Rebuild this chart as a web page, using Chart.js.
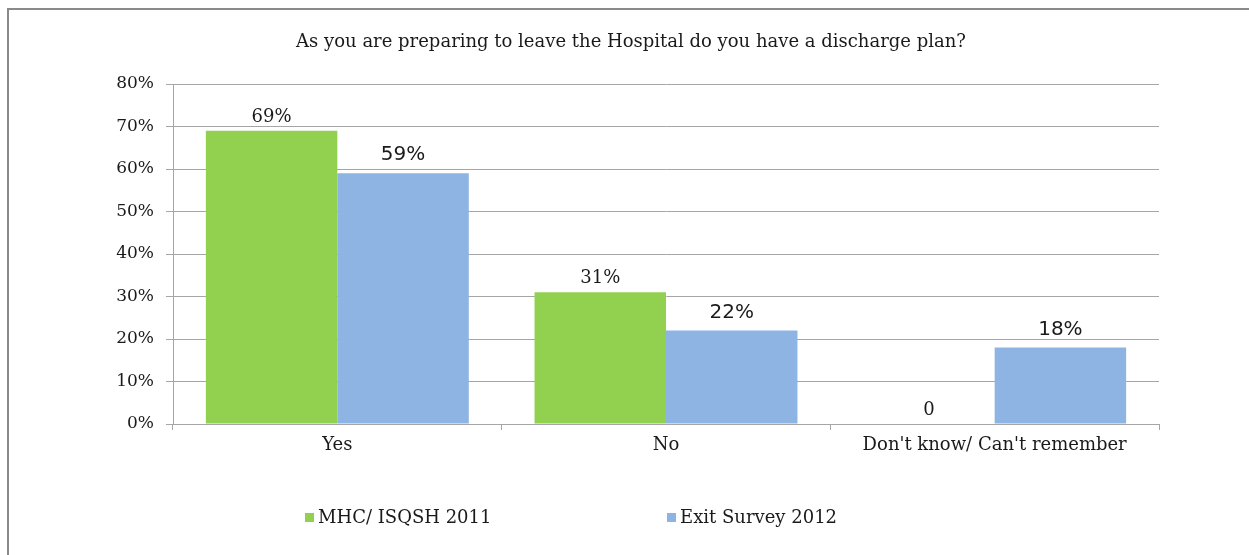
<!DOCTYPE html>
<html>
<head>
<meta charset="utf-8">
<script src="https://cdn.jsdelivr.net/npm/chart.js@4/dist/chart.umd.min.js"></script>
<style>
html, body { margin: 0; padding: 0; background: #fff; overflow: hidden; }
#frame { position: absolute; left: 7px; top: 8px; width: 1300px; height: 600px; border: 2px solid #8a8a8a; box-sizing: border-box; }
#wrap { position: absolute; left: 0; top: 0; width: 1249px; height: 555px; }
</style>
</head>
<body>
<div id="frame"></div>
<div id="wrap"><canvas id="graph"></canvas></div>
<script>
const categories = ["Yes", "No", "Don't know/ Can't remember"];
const seriesNames = ["MHC/ ISQSH 2011", "Exit Survey 2012"];
const mhc2011 = [69, 31, 0];
const exit2012 = [59, 22, 18];
const yTickLabels = ["0%", "10%", "20%", "30%", "40%", "50%", "60%", "70%", "80%"];
const chartTitle = "As you are preparing to leave the Hospital do you have a discharge plan?";

const serif = "'DejaVu Serif', serif";
const sans = "'DejaVu Sans', sans-serif";
const lineColor = '#a6a6a6';

function fmt(v) {
    return v === 0 ? "0" : v + "%";
}

// title, value labels and legend drawn on the canvas
const extras = {
    id: 'extras',
    afterDatasetsDraw(chart) {
        const ctx = chart.ctx;
        ctx.save();
        chart.data.datasets.forEach((ds, i) => {
            const meta = chart.getDatasetMeta(i);
            ctx.font = ds.labelFont;
            ctx.fillStyle = '#1a1a1a';
            ctx.textAlign = 'center';
            ctx.textBaseline = 'alphabetic';
            meta.data.forEach((bar, j) => {
                ctx.fillText(fmt(ds.data[j]), bar.x, bar.y - ds.labelGap);
            });
        });
        ctx.restore();
    },
    afterDraw(chart) {
        const ctx = chart.ctx;
        ctx.save();
        ctx.fillStyle = '#1a1a1a';
        ctx.font = "18px " + serif;
        ctx.textAlign = 'center';
        ctx.textBaseline = 'middle';
        ctx.fillText(chartTitle, 631, 42);

        const legendX = [305, 667];
        const legendY = 518;
        chart.data.datasets.forEach((ds, i) => {
            ctx.fillStyle = ds.backgroundColor;
            ctx.fillRect(legendX[i], legendY - 5, 9, 9);
            ctx.fillStyle = '#1a1a1a';
            ctx.textAlign = 'left';
            ctx.fillText(ds.label, legendX[i] + 13, legendY);
        });
        ctx.restore();
    }
};

const ctx = document.getElementById('graph').getContext('2d');
const graph = new Chart(ctx, {
    type: 'bar',
    data: {
        labels: categories,
        datasets: [{
            label: seriesNames[0],
            data: mhc2011,
            backgroundColor: '#92D050',
            labelFont: "18px " + serif,
            labelGap: 9
        }, {
            label: seriesNames[1],
            data: exit2012,
            backgroundColor: '#8EB4E3',
            labelFont: "20px " + sans,
            labelGap: 13
        }]
    },
    options: {
        responsive: true,
        maintainAspectRatio: false,
        animation: false,
        layout: {
            padding: { top: 84, right: 90, bottom: 91, left: 0 }
        },
        datasets: {
            bar: { categoryPercentage: 0.8, barPercentage: 1.0 }
        },
        scales: {
            x: {
                grid: { drawOnChartArea: false, drawTicks: true, tickLength: 6, color: lineColor, offset: true },
                border: { color: lineColor, width: 1 },
                ticks: { color: '#1a1a1a', font: { family: serif, size: 18 }, padding: 5, maxRotation: 0 },
                afterFit(scale) { scale.height = 40; }
            },
            y: {
                min: 0,
                max: 80,
                ticks: {
                    stepSize: 10,
                    color: '#1a1a1a',
                    font: { family: serif, size: 17 },
                    padding: 12,
                    callback: (v, i) => yTickLabels[i]
                },
                grid: { color: lineColor, tickLength: 7 },
                border: { color: lineColor, width: 1 },
                afterFit(scale) { scale.width = 173; }
            }
        },
        plugins: {
            legend: { display: false },
            tooltip: { enabled: false }
        }
    },
    plugins: [extras]
});
</script>
</body>
</html>
